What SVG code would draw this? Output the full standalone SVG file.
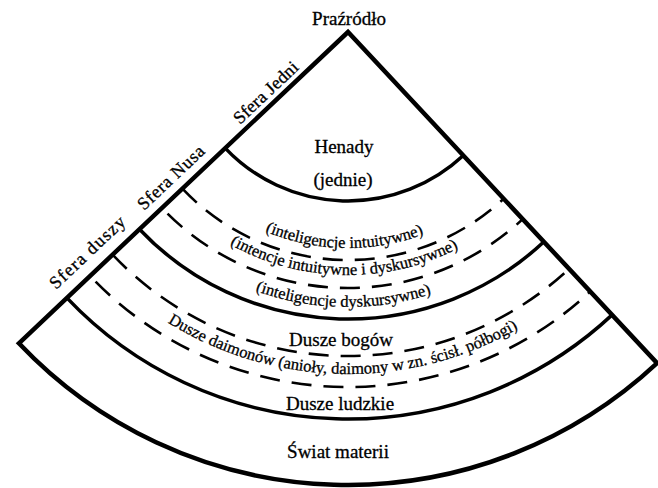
<svg xmlns="http://www.w3.org/2000/svg" xmlns:xlink="http://www.w3.org/1999/xlink" width="658" height="488" viewBox="0 0 658 488">
  <style>
    .edge { fill: none; stroke: #000; stroke-width: 4.5; stroke-linejoin: miter; }
    .solid { fill: none; stroke: #000; stroke-width: 3.5; }
    .dash { fill: none; stroke: #000; stroke-width: 2.6; stroke-dasharray: 20 12; }
    text { font-family: "Liberation Serif", "Times New Roman", serif; fill: #000; stroke: #000; stroke-width: 0.3; }
    .lbl { font-size: 19px; text-anchor: middle; }
    .curve { font-size: 16.5px; }
    .side { font-size: 18px; }
  </style>
  <defs>
    <!-- baselines for curved labels, concentric with the apex (348,32), spanning 151deg..31deg -->
    <path id="arc216" d="M 159.1 136.7 A 216 216 0 0 0 533.2 143.2"/>
    <path id="arc243" d="M 135.5 149.8 A 243 243 0 0 0 556.3 157.1"/>
    <path id="arc275" d="M 107.5 165.3 A 275 275 0 0 0 583.7 173.6"/>
    <path id="arc342" d="M 48.9 197.8 A 342 342 0 0 0 641.2 208.1"/>
  </defs>

  <!-- outline of the fan -->
  <g id="fan">
    <path class="edge" d="M 18.9 343.3 L 348 32 L 657.1 363.1 A 453 453 0 0 1 18.9 343.3 Z"/>
  </g>

  <!-- dividing arcs between the spheres -->
  <g id="connectors">
    <path class="solid" d="M 225.2 148.1 A 169 169 0 0 0 463.3 155.5"/>
    <path class="dash" d="M 182.4 188.7 A 228 228 0 0 0 503.6 198.7"/>
    <path class="dash" style="stroke-dashoffset:24" d="M 162.0 207.9 A 256 256 0 0 0 522.7 219.1"/>
    <path class="solid" d="M 139.5 229.2 A 287 287 0 0 0 543.9 241.8"/>
    <path class="dash" d="M 112.6 254.7 A 324 324 0 0 0 569.1 268.8"/>
    <path class="dash" style="stroke-dashoffset:24" d="M 90.1 276.0 A 355 355 0 0 0 590.3 291.5"/>
    <path class="solid" d="M 66.9 297.9 A 387 387 0 0 0 612.1 314.9"/>
  </g>

  <g id="apex">
    <text class="lbl" x="349" y="25">Praźródło</text>
  </g>

  <g id="sfera-jedni">
    <text class="side" x="240" y="125" transform="rotate(-43.4 240 125)" textLength="82" lengthAdjust="spacing">Sfera Jedni</text>
  </g>
  <g id="sfera-nusa">
    <text class="side" x="144" y="211" transform="rotate(-43.4 144 211)" textLength="85" lengthAdjust="spacing">Sfera Nusa</text>
  </g>
  <g id="sfera-duszy">
    <text class="side" x="56" y="290" transform="rotate(-43.4 56 290)" textLength="97" lengthAdjust="spacing">Sfera duszy</text>
  </g>

  <g id="henady">
    <text class="lbl" x="344" y="153">Henady</text>
    <text class="lbl" x="343" y="186">(jednie)</text>
  </g>

  <g id="nus">
    <text class="curve"><textPath xlink:href="#arc216" href="#arc216" startOffset="50%" text-anchor="middle">(inteligencje intuitywne)</textPath></text>
    <text class="curve"><textPath xlink:href="#arc243" href="#arc243" startOffset="50%" text-anchor="middle">(intencje intuitywne i dyskursywne)</textPath></text>
    <text class="curve"><textPath xlink:href="#arc275" href="#arc275" startOffset="50%" text-anchor="middle">(inteligencje dyskursywne)</textPath></text>
  </g>

  <g id="dusze">
    <text class="lbl" x="341" y="346">Dusze bogów</text>
    <text class="curve"><textPath xlink:href="#arc342" href="#arc342" startOffset="50%" text-anchor="middle">Dusze daimonów (anioły, daimony w zn. ścisł. półbogi)</textPath></text>
    <text class="lbl" x="340" y="410">Dusze ludzkie</text>
  </g>

  <g id="swiat">
    <text class="lbl" x="338" y="458">Świat materii</text>
  </g>
</svg>
